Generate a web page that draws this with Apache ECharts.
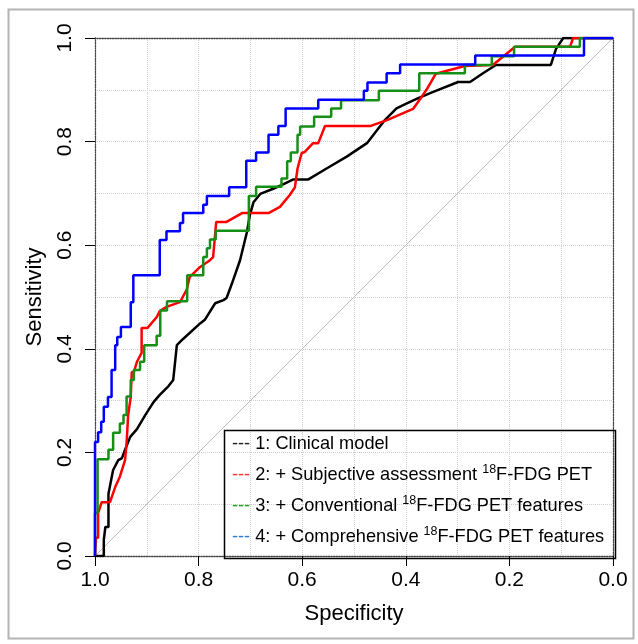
<!DOCTYPE html>
<html>
<head>
<meta charset="utf-8">
<title>ROC curves</title>
<script src="https://cdn.jsdelivr.net/npm/echarts@6/dist/echarts.min.js"></script>
<style>
    html, body { margin: 0; padding: 0; background: #fff; }
    #rocChart { width: 638px; height: 644px; }
</style>
</head>
<body>
<div id="rocChart"></div>
<script>
// ROC curve data: [specificity, sensitivity]
const clinicalModel = [
    [1.000, 0.000], [0.983, 0.000], [0.983, 0.031], [0.980, 0.031], [0.980, 0.056], [0.974, 0.056],
    [0.974, 0.120], [0.968, 0.151], [0.965, 0.166], [0.955, 0.185], [0.948, 0.189], [0.942, 0.205],
    [0.932, 0.230], [0.919, 0.245], [0.903, 0.272], [0.887, 0.297], [0.875, 0.311], [0.858, 0.328],
    [0.849, 0.340], [0.842, 0.407], [0.830, 0.419], [0.797, 0.449], [0.788, 0.456], [0.768, 0.488],
    [0.752, 0.494], [0.746, 0.498], [0.736, 0.525], [0.720, 0.571], [0.707, 0.624], [0.701, 0.658],
    [0.694, 0.683], [0.681, 0.699], [0.656, 0.709], [0.640, 0.716], [0.617, 0.727], [0.588, 0.727],
    [0.553, 0.748], [0.514, 0.771], [0.475, 0.797], [0.440, 0.842], [0.418, 0.864], [0.398, 0.874],
    [0.376, 0.884], [0.347, 0.896], [0.299, 0.915], [0.276, 0.915], [0.251, 0.932], [0.226, 0.948],
    [0.120, 0.948], [0.110, 0.979], [0.096, 1.000], [0.000, 1.000]
];

const subjectiveModel = [
    [1.000, 0.000], [0.998, 0.035], [0.994, 0.035], [0.994, 0.083], [0.987, 0.104], [0.971, 0.104],
    [0.961, 0.133], [0.952, 0.153], [0.942, 0.185], [0.939, 0.218], [0.936, 0.272], [0.931, 0.307],
    [0.929, 0.355], [0.925, 0.355], [0.919, 0.375], [0.910, 0.392], [0.910, 0.440], [0.899, 0.440],
    [0.881, 0.461], [0.875, 0.473], [0.862, 0.481], [0.836, 0.490], [0.823, 0.514], [0.817, 0.539],
    [0.797, 0.558], [0.778, 0.571], [0.772, 0.577], [0.766, 0.645], [0.746, 0.645], [0.716, 0.662],
    [0.665, 0.662], [0.643, 0.674], [0.624, 0.697], [0.614, 0.712], [0.609, 0.748], [0.601, 0.778],
    [0.595, 0.780], [0.579, 0.797], [0.569, 0.797], [0.556, 0.830], [0.469, 0.830], [0.435, 0.842],
    [0.386, 0.863], [0.371, 0.884], [0.357, 0.905], [0.342, 0.931], [0.286, 0.946], [0.232, 0.948],
    [0.189, 0.983], [0.083, 0.983], [0.077, 1.000], [0.000, 1.000]
];

const conventionalModel = [
    [1.000, 0.000], [1.000, 0.083], [0.995, 0.083], [0.995, 0.187], [0.974, 0.187], [0.974, 0.205],
    [0.965, 0.205], [0.965, 0.238], [0.952, 0.238], [0.952, 0.256], [0.945, 0.256], [0.945, 0.272],
    [0.939, 0.272], [0.939, 0.308], [0.931, 0.308], [0.931, 0.340], [0.925, 0.340], [0.925, 0.359],
    [0.913, 0.359], [0.913, 0.375], [0.905, 0.375], [0.905, 0.407], [0.881, 0.407], [0.881, 0.425],
    [0.874, 0.425], [0.874, 0.474], [0.861, 0.474], [0.861, 0.492], [0.822, 0.492], [0.822, 0.542],
    [0.791, 0.542], [0.791, 0.577], [0.784, 0.577], [0.784, 0.594], [0.778, 0.594], [0.778, 0.611],
    [0.767, 0.611], [0.767, 0.628], [0.703, 0.628], [0.703, 0.695], [0.689, 0.695], [0.689, 0.713],
    [0.640, 0.713], [0.640, 0.729], [0.629, 0.729], [0.629, 0.762], [0.622, 0.762], [0.622, 0.779],
    [0.609, 0.779], [0.609, 0.813], [0.604, 0.813], [0.604, 0.829], [0.577, 0.829], [0.577, 0.848],
    [0.544, 0.848], [0.544, 0.864], [0.525, 0.864], [0.525, 0.880], [0.452, 0.880], [0.452, 0.898],
    [0.374, 0.898], [0.374, 0.932], [0.286, 0.932], [0.286, 0.948], [0.234, 0.948], [0.234, 0.965],
    [0.191, 0.965], [0.191, 0.983], [0.064, 0.983], [0.064, 1.000], [0.000, 1.000]
];

const comprehensiveModel = [
    [1.000, 0.000], [1.000, 0.220], [0.994, 0.220], [0.994, 0.239], [0.988, 0.239], [0.988, 0.259],
    [0.983, 0.259], [0.983, 0.288], [0.975, 0.288], [0.975, 0.307], [0.968, 0.307], [0.968, 0.359],
    [0.961, 0.359], [0.961, 0.407], [0.957, 0.407], [0.957, 0.423], [0.950, 0.423], [0.950, 0.442],
    [0.931, 0.442], [0.931, 0.490], [0.926, 0.490], [0.926, 0.542], [0.875, 0.542], [0.875, 0.610],
    [0.862, 0.610], [0.862, 0.627], [0.836, 0.627], [0.836, 0.643], [0.830, 0.643], [0.830, 0.662],
    [0.791, 0.662], [0.791, 0.678], [0.784, 0.678], [0.784, 0.695], [0.741, 0.695], [0.741, 0.712],
    [0.708, 0.712], [0.708, 0.763], [0.689, 0.763], [0.689, 0.779], [0.665, 0.779], [0.665, 0.813],
    [0.646, 0.813], [0.646, 0.830], [0.632, 0.830], [0.632, 0.864], [0.569, 0.864], [0.569, 0.881],
    [0.481, 0.881], [0.481, 0.898], [0.474, 0.898], [0.474, 0.914], [0.437, 0.914], [0.437, 0.932],
    [0.411, 0.932], [0.411, 0.949], [0.266, 0.949], [0.266, 0.966], [0.056, 0.966], [0.056, 1.000],
    [0.000, 1.000]
];

// chance diagonal
const chanceLine = [[1, 0], [0, 1]];

const seriesNames = [
    '1: Clinical model',
    '2: + Subjective assessment 18F-FDG PET',
    '3: + Conventional 18F-FDG PET features',
    '4: + Comprehensive 18F-FDG PET features'
];

const lineColors = ['#000000', '#ff0000', '#178f17', '#0000ff'];
const dashColors = ['#222222', '#ff3030', '#22a622', '#2f7fd6'];
const dashKeys = ['k', 'r', 'g', 'b'];
const fontFamily = '"Liberation Sans", Arial, Helvetica, sans-serif';

function initRocChart() {
    const container = document.getElementById('rocChart');
    const chart = echarts.init(container, null, { renderer: 'canvas' });

    const gridLine = { color: '#cfcfcf', type: 'dotted', width: 1 };
    const boxLine = { color: '#444', type: 'dotted', width: 1.3 };

    const rich = {
        sup: { fontSize: 12.5, lineHeight: 12, verticalAlign: 'top', fontFamily: fontFamily, color: '#000' }
    };
    dashKeys.forEach((k, i) => {
        rich[k] = { fontSize: 18.2, lineHeight: 24, color: dashColors[i], fontFamily: fontFamily };
    });

    const curves = [clinicalModel, subjectiveModel, conventionalModel, comprehensiveModel];

    const option = {
        animation: false,
        backgroundColor: '#fff',
        grid: { left: 95, top: 38, width: 518, height: 518, outerBoundsMode: 'none' },
        xAxis: [
            {
                type: 'value', min: 0, max: 1, interval: 0.2, inverse: true, position: 'bottom',
                name: 'Specificity', nameLocation: 'middle', nameGap: 47,
                nameTextStyle: { fontSize: 22, color: '#000', fontFamily: fontFamily },
                axisLine: { show: true, onZero: false, lineStyle: boxLine },
                axisTick: { show: true, length: 10, lineStyle: { color: '#000', width: 1 } },
                axisLabel: {
                    margin: 14, fontSize: 21, color: '#000', fontFamily: fontFamily,
                    formatter: v => v.toFixed(1)
                },
                splitLine: { show: true, lineStyle: gridLine },
                minorTick: { show: false, splitNumber: 2 },
                minorSplitLine: { show: true, lineStyle: gridLine }
            },
            {
                type: 'value', min: 0, max: 1, position: 'top', inverse: true,
                axisLine: { show: true, onZero: false, lineStyle: boxLine },
                axisTick: { show: false }, axisLabel: { show: false }, splitLine: { show: false }
            }
        ],
        yAxis: [
            {
                type: 'value', min: 0, max: 1, interval: 0.2, position: 'left',
                name: 'Sensitivity', nameLocation: 'middle', nameRotate: 90, nameGap: 49,
                nameTextStyle: { fontSize: 22, color: '#000', fontFamily: fontFamily },
                axisLine: { show: true, onZero: false, lineStyle: boxLine },
                axisTick: { show: true, length: 10, lineStyle: { color: '#000', width: 1 } },
                axisLabel: {
                    rotate: 90, margin: 19, fontSize: 21, color: '#000', fontFamily: fontFamily,
                    formatter: v => v.toFixed(1)
                },
                splitLine: { show: true, lineStyle: gridLine },
                minorTick: { show: false, splitNumber: 2 },
                minorSplitLine: { show: true, lineStyle: gridLine }
            },
            {
                type: 'value', min: 0, max: 1, position: 'right',
                axisLine: { show: true, onZero: false, lineStyle: boxLine },
                axisTick: { show: false }, axisLabel: { show: false }, splitLine: { show: false }
            }
        ],
        legend: {
            data: seriesNames,
            orient: 'vertical',
            left: 227,
            top: 432,
            padding: 0,
            itemGap: 7,
            itemWidth: 0,
            icon: 'none',
            selectedMode: false,
            textStyle: { fontSize: 18.2, lineHeight: 24, color: '#000', fontFamily: fontFamily, rich: rich },
            formatter: function(name) {
                const i = seriesNames.indexOf(name);
                return '{' + dashKeys[i] + '|---} ' + name.replace('18F', '{sup|18}F');
            }
        },
        graphic: [
            // legend box
            {
                type: 'rect', left: 222, top: 428, z: 3, silent: true,
                shape: { width: 391, height: 128 },
                style: { fill: 'none', stroke: '#000', lineWidth: 1.5 }
            },
            // outer frame
            {
                type: 'rect', left: 6, top: 7, z: 3, silent: true,
                shape: { width: 625, height: 629 },
                style: { fill: 'none', stroke: '#b4b4b4', lineWidth: 2 }
            }
        ],
        series: [
            {
                type: 'line', data: chanceLine, symbol: 'none', silent: true,
                lineStyle: { color: '#b8b8b8', width: 1 }
            }
        ].concat(curves.map((data, i) => ({
            name: seriesNames[i],
            type: 'line',
            data: data,
            symbol: 'none',
            lineStyle: { color: lineColors[i], width: 2.5 },
            itemStyle: { color: lineColors[i] }
        })))
    };
    chart.setOption(option);
}

document.addEventListener('DOMContentLoaded', initRocChart);
</script>
</body>
</html>
